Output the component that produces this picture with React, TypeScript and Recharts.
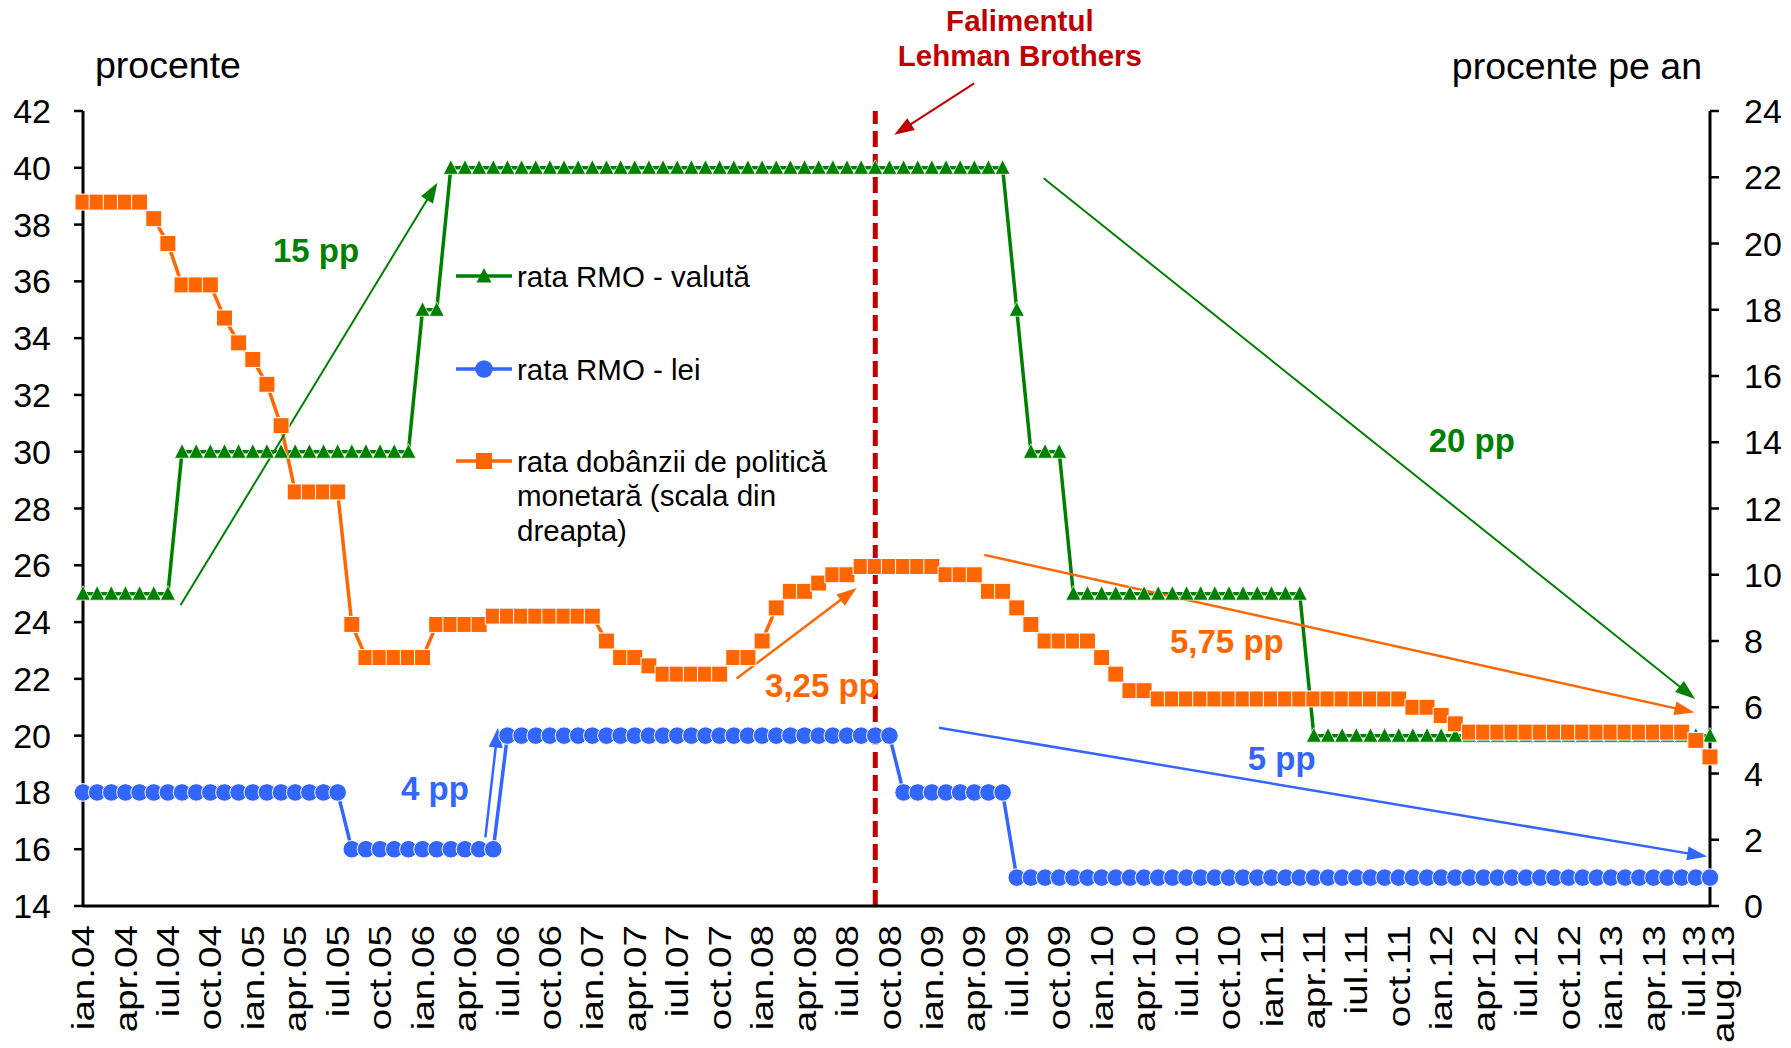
import React from 'react';
import { LineChart, Line, XAxis, YAxis, ReferenceLine, ReferenceDot, Legend } from 'recharts';

// ---------- data ----------
const monthNames = ['ian', 'feb', 'mar', 'apr', 'mai', 'iun', 'iul', 'aug', 'sep', 'oct', 'noi', 'dec'];
const years = ['04', '05', '06', '07', '08', '09', '10', '11', '12', '13'];
const months: string[] = [];
years.forEach((yr) => monthNames.forEach((m) => months.push(`${m}.${yr}`)));
months.length = 116; // ian.04 .. aug.13

// rata RMO - valută (left axis, %)
const rmoValuta = [
  25, 25, 25, 25, 25, 25, 25,
  30, 30, 30, 30, 30, 30, 30, 30, 30, 30, 30, 30, 30, 30, 30, 30, 30,
  35, 35,
  40, 40, 40, 40, 40, 40, 40, 40, 40, 40, 40, 40, 40, 40, 40, 40, 40, 40, 40, 40,
  40, 40, 40, 40, 40, 40, 40, 40, 40, 40, 40, 40, 40, 40, 40, 40, 40, 40, 40, 40,
  35,
  30, 30, 30,
  25, 25, 25, 25, 25, 25, 25, 25, 25, 25, 25, 25, 25, 25, 25, 25, 25,
  20, 20, 20, 20, 20, 20, 20, 20, 20, 20, 20, 20, 20, 20, 20, 20, 20, 20, 20, 20,
  20, 20, 20, 20, 20, 20, 20, 20, 20,
];

// rata RMO - lei (left axis, %)
const rmoLei = [
  18, 18, 18, 18, 18, 18, 18, 18, 18, 18, 18, 18, 18, 18, 18, 18, 18, 18, 18,
  16, 16, 16, 16, 16, 16, 16, 16, 16, 16, 16,
  20, 20, 20, 20, 20, 20, 20, 20, 20, 20, 20, 20, 20, 20, 20, 20, 20, 20, 20, 20,
  20, 20, 20, 20, 20, 20, 20, 20,
  18, 18, 18, 18, 18, 18, 18, 18,
  15, 15, 15, 15, 15, 15, 15, 15, 15, 15, 15, 15, 15, 15, 15, 15, 15, 15, 15, 15,
  15, 15, 15, 15, 15, 15, 15, 15, 15, 15, 15, 15, 15, 15, 15, 15, 15, 15, 15, 15,
  15, 15, 15, 15, 15, 15, 15, 15, 15, 15,
];

// rata dobânzii de politică monetară (right axis, % pe an)
const policyRate = [
  21.25, 21.25, 21.25, 21.25, 21.25, 20.75, 20, 18.75, 18.75, 18.75, 17.75, 17,
  16.5, 15.75, 14.5, 12.5, 12.5, 12.5, 12.5, 8.5, 7.5, 7.5, 7.5, 7.5,
  7.5, 8.5, 8.5, 8.5, 8.5, 8.75, 8.75, 8.75, 8.75, 8.75, 8.75, 8.75,
  8.75, 8, 7.5, 7.5, 7.25, 7, 7, 7, 7, 7, 7.5, 7.5,
  8, 9, 9.5, 9.5, 9.75, 10, 10, 10.25, 10.25, 10.25, 10.25, 10.25,
  10.25, 10, 10, 10, 9.5, 9.5, 9, 8.5, 8, 8, 8, 8,
  7.5, 7, 6.5, 6.5, 6.25, 6.25, 6.25, 6.25, 6.25, 6.25, 6.25, 6.25,
  6.25, 6.25, 6.25, 6.25, 6.25, 6.25, 6.25, 6.25, 6.25, 6.25, 6, 6,
  5.75, 5.5, 5.25, 5.25, 5.25, 5.25, 5.25, 5.25, 5.25, 5.25, 5.25, 5.25,
  5.25, 5.25, 5.25, 5.25, 5.25, 5.25, 5, 4.5,
];

const xTicks = [0, 3, 6, 9, 12, 15, 18, 21, 24, 27, 30, 33, 36, 39, 42, 45, 48, 51, 54, 57, 60, 63, 66, 69, 72, 75, 78, 81, 84, 87, 90, 93, 96, 99, 102, 105, 108, 111, 114, 115];
const leftTicks = [14, 16, 18, 20, 22, 24, 26, 28, 30, 32, 34, 36, 38, 40, 42];
const rightTicks = [0, 2, 4, 6, 8, 10, 12, 14, 16, 18, 20, 22, 24];

const lehmanIndex = 56; // sep.08

const legendLabels = [
  ['rata RMO - valută'],
  ['rata RMO - lei'],
  ['rata dobânzii de politică', 'monetară (scala din', 'dreapta)'],
];

// annotation arrows (data coordinates: month index, value on given axis)
const arrowDefs = [
  { axis: 'left', color: '#008000', w: 2, from: [6.89, 24.59], to: [25.05, 39.47] },
  { axis: 'left', color: '#3366FF', w: 2.5, from: [28.44, 16.42], to: [29.33, 20.28] },
  { axis: 'right', color: '#FF6600', w: 2.5, from: [46.2, 6.87], to: [54.68, 9.6] },
  { axis: 'left', color: '#C00000', w: 2, from: [62.99, 42.97], to: [57.34, 41.16] },
  { axis: 'left', color: '#008000', w: 2, from: [67.9, 39.63], to: [113.95, 21.29] },
  { axis: 'right', color: '#FF6600', w: 2.5, from: [63.7, 10.6], to: [113.9, 5.84] },
  { axis: 'left', color: '#3366FF', w: 2.5, from: [60.5, 20.28], to: [114.8, 15.74] },
];

const textDefs = [
  { axis: 'left', x: 16.47, y: 37.07, text: '15 pp', color: '#008000', size: 33, bold: true },
  { axis: 'left', x: 24.88, y: 18.15, text: '4 pp', color: '#3366FF', size: 33, bold: true },
  { axis: 'right', x: 52.23, y: 6.65, text: '3,25 pp', color: '#FF6600', size: 33, bold: true },
  { axis: 'left', x: 98.16, y: 30.41, text: '20 pp', color: '#008000', size: 33, bold: true },
  { axis: 'right', x: 80.85, y: 7.98, text: '5,75 pp', color: '#FF6600', size: 33, bold: true },
  { axis: 'left', x: 84.73, y: 19.21, text: '5 pp', color: '#3366FF', size: 33, bold: true },
  { axis: 'left', x: 66.22, y: 45.17, text: 'Falimentul', color: '#C00000', size: 29.5, bold: true },
  { axis: 'left', x: 66.22, y: 43.97, text: 'Lehman Brothers', color: '#C00000', size: 29.5, bold: true },
];

const data = months.map((label, i) => ({
  idx: i,
  label,
  valuta: rmoValuta[i],
  lei: rmoLei[i],
  policy: policyRate[i],
}));

// ---------- styles ----------
const GREEN = '#008000';
const BLUE = '#3366FF';
const ORANGE = '#FF6600';
const FONT = '"Liberation Sans", Arial, Helvetica, sans-serif';

const TriangleDot = (props: any) => {
  const { cx, cy, index } = props;
  if (cx == null || cy == null) return <g key={`t${index}`} />;
  return (
    <polygon
      key={`t${index}`}
      points={`${cx},${cy - 8} ${cx + 7.5},${cy + 6.5} ${cx - 7.5},${cy + 6.5}`}
      fill={GREEN}
      stroke="#fff"
      strokeWidth={0.7}
    />
  );
};

const CircleDot = (props: any) => {
  const { cx, cy, index } = props;
  if (cx == null || cy == null) return <g key={`c${index}`} />;
  return <circle key={`c${index}`} cx={cx} cy={cy} r={8.8} fill={BLUE} stroke="#fff" strokeWidth={1} />;
};

const SquareDot = (props: any) => {
  const { cx, cy, index } = props;
  if (cx == null || cy == null) return <g key={`s${index}`} />;
  return <rect key={`s${index}`} x={cx - 8} y={cy - 8} width={16} height={16} fill={ORANGE} stroke="#fff" strokeWidth={1} />;
};

const XTick = (props: any) => {
  const { x, y, payload } = props;
  const shift = payload.value === 115 ? 13 : payload.value === 114 ? -2 : 0;
  return (
    <g transform={`translate(${x + shift} ${y}) rotate(-90) scale(1.17 0.95)`}>
      <text
        x={0}
        y={0}
        textAnchor="end"
        dominantBaseline="central"
        fontSize={33}
        fill="#000"
        fontFamily={FONT}
      >
        {months[payload.value]}
      </text>
    </g>
  );
};

const makeArrow = (color: string, width: number) => (props: any) => {
  const { x1, y1, x2, y2 } = props;
  if ([x1, y1, x2, y2].some((v) => v == null || isNaN(v))) return <g />;
  const dx = x2 - x1;
  const dy = y2 - y1;
  const len = Math.hypot(dx, dy) || 1;
  const ux = dx / len;
  const uy = dy / len;
  const hl = 20;
  const hw = 7;
  const bx = x2 - ux * hl;
  const by = y2 - uy * hl;
  const px = -uy;
  const py = ux;
  return (
    <g>
      <line x1={x1} y1={y1} x2={bx + ux * 2} y2={by + uy * 2} stroke={color} strokeWidth={width} />
      <polygon
        points={`${x2},${y2} ${bx + px * hw},${by + py * hw} ${bx - px * hw},${by - py * hw}`}
        fill={color}
      />
    </g>
  );
};

const makeTextShape = (text: string, color: string, size: number, bold: boolean) => (props: any) => {
  const { cx, cy } = props;
  return (
    <text
      x={cx}
      y={cy}
      textAnchor="middle"
      dominantBaseline="central"
      fontSize={size}
      fontWeight={bold ? 'bold' : 'normal'}
      fill={color}
      fontFamily={FONT}
    >
      {text}
    </text>
  );
};

const renderLegend = () => {
  const rowsY = [26, 119, 211];
  const colors = [GREEN, BLUE, ORANGE];
  return (
    <svg width={420} height={300} style={{ overflow: 'visible' }}>
      {legendLabels.map((lines, i) => {
        const y = rowsY[i];
        const c = colors[i];
        return (
          <g key={i}>
            <line x1={2} y1={y} x2={58} y2={y} stroke={c} strokeWidth={3.5} />
            {i === 0 && <polygon points={`30,${y - 8} 37.5,${y + 6.5} 22.5,${y + 6.5}`} fill={c} />}
            {i === 1 && <circle cx={30} cy={y} r={8.8} fill={c} />}
            {i === 2 && <rect x={22} y={y - 8} width={16} height={16} fill={c} />}
            {lines.map((t, j) => (
              <text
                key={j}
                x={63}
                y={y + j * 34.5}
                dominantBaseline="central"
                fontSize={29.5}
                fill="#000"
                fontFamily={FONT}
              >
                {t}
              </text>
            ))}
          </g>
        );
      })}
    </svg>
  );
};

export default function App() {
  return (
    <div
      style={{
        position: 'absolute',
        left: 0,
        top: 0,
        width: 1791,
        height: 1048,
        background: '#fff',
        fontFamily: FONT,
      }}
    >
      <LineChart width={1791} height={1048} data={data} margin={{ top: 111, right: 0, bottom: 0, left: 0 }}>
        <XAxis
          dataKey="idx"
          type="number"
          domain={[0, 115]}
          ticks={xTicks}
          interval={0}
          tick={<XTick />}
          tickLine={false}
          tickSize={0}
          tickMargin={19}
          axisLine={{ stroke: '#000', strokeWidth: 3 }}
          height={142}
        />
        <YAxis
          yAxisId="left"
          domain={[14, 42]}
          ticks={leftTicks}
          interval={0}
          width={83}
          tickSize={9}
          tickMargin={23}
          axisLine={{ stroke: '#000', strokeWidth: 3 }}
          tickLine={{ stroke: '#000', strokeWidth: 2.5 }}
          tick={{ fontSize: 34, fill: '#000', fontFamily: FONT }}
        />
        <YAxis
          yAxisId="right"
          orientation="right"
          domain={[0, 24]}
          ticks={rightTicks}
          interval={0}
          width={81}
          tickSize={9}
          tickMargin={25}
          axisLine={{ stroke: '#000', strokeWidth: 3 }}
          tickLine={{ stroke: '#000', strokeWidth: 2.5 }}
          tick={{ fontSize: 34, fill: '#000', fontFamily: FONT, textAnchor: 'start' }}
        />
        <Line
          yAxisId="left"
          dataKey="valuta"
          type="linear"
          stroke={GREEN}
          strokeWidth={3.5}
          dot={TriangleDot}
          activeDot={false}
          isAnimationActive={false}
        />
        <Line
          yAxisId="left"
          dataKey="lei"
          type="linear"
          stroke={BLUE}
          strokeWidth={3.5}
          dot={CircleDot}
          activeDot={false}
          isAnimationActive={false}
        />
        <Line
          yAxisId="right"
          dataKey="policy"
          type="linear"
          stroke={ORANGE}
          strokeWidth={3.5}
          dot={SquareDot}
          activeDot={false}
          isAnimationActive={false}
        />
        <ReferenceLine
          yAxisId="left"
          x={lehmanIndex}
          stroke="#C00000"
          strokeWidth={5}
          strokeDasharray="16 7"
        />
        {arrowDefs.map((a, i) => (
          <ReferenceLine
            key={`arr${i}`}
            yAxisId={a.axis}
            ifOverflow="visible"
            segment={[
              { x: a.from[0], y: a.from[1] },
              { x: a.to[0], y: a.to[1] },
            ]}
            shape={makeArrow(a.color, a.w)}
          />
        ))}
        {textDefs.map((t, i) => (
          <ReferenceDot
            key={`txt${i}`}
            yAxisId={t.axis}
            x={t.x}
            y={t.y}
            r={0}
            ifOverflow="visible"
            shape={makeTextShape(t.text, t.color, t.size, t.bold)}
          />
        ))}
        <Legend
          layout="vertical"
          align="center"
          verticalAlign="middle"
          content={renderLegend}
          wrapperStyle={{ left: 454, top: 250, width: 420, height: 300 }}
        />
      </LineChart>
      <svg
        width={1791}
        height={1048}
        style={{ position: 'absolute', left: 0, top: 0, pointerEvents: 'none' }}
      >
        <text x={95} y={65} dominantBaseline="central" fontSize={37.5} fill="#000" fontFamily={FONT}>
          procente
        </text>
        <text x={1702} y={66} textAnchor="end" dominantBaseline="central" fontSize={37.5} fill="#000" fontFamily={FONT}>
          procente pe an
        </text>
      </svg>
    </div>
  );
}
